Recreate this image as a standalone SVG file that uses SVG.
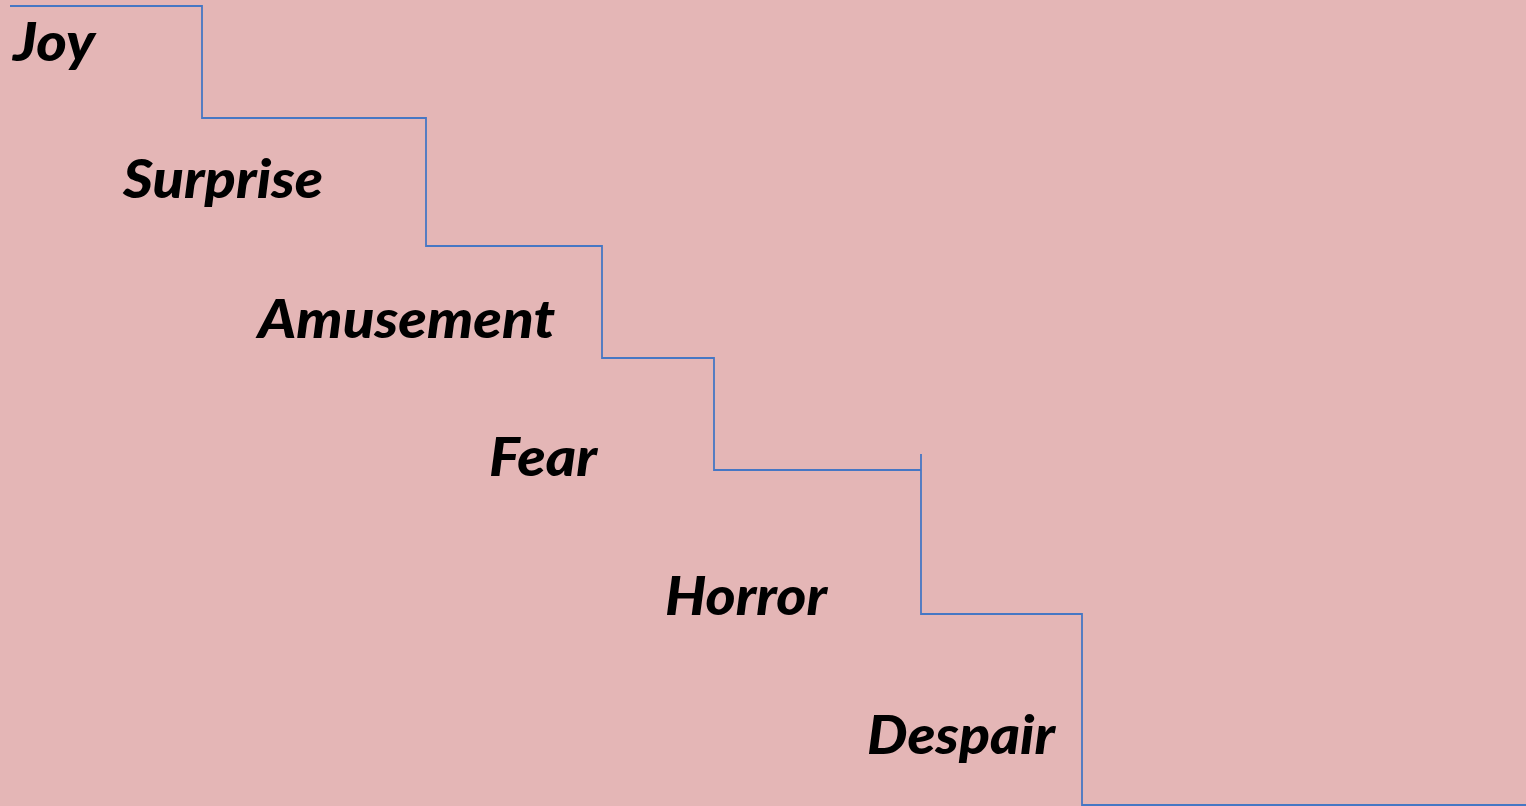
<svg xmlns="http://www.w3.org/2000/svg" width="1526" height="806" viewBox="0 0 1526 806">
<style>
.lbl{font-family:Lato,"Open Sans","Liberation Sans",sans-serif;font-weight:900;font-style:italic;font-size:53px;fill:#000}
.ln{fill:none;stroke:#4677C4;stroke-width:1.8}
</style>
<rect width="1526" height="806" fill="#E4B6B6"/>
<g id="connectors">
<path class="ln" d="M10 6H202V118H426V246H602V358H714V470H921"/>
<path class="ln" d="M921 454V614H1082V805H1526"/>
</g>
<g id="joy"><text class="lbl" x="13" y="61" textLength="82" lengthAdjust="spacingAndGlyphs">Joy</text></g>
<g id="surprise"><text class="lbl" x="123" y="198" textLength="200" lengthAdjust="spacingAndGlyphs">Surprise</text></g>
<g id="amusement"><text class="lbl" x="258" y="338" textLength="297" lengthAdjust="spacingAndGlyphs">Amusement</text></g>
<g id="fear"><text class="lbl" x="489" y="476" textLength="108" lengthAdjust="spacingAndGlyphs">Fear</text></g>
<g id="horror"><text class="lbl" x="665" y="615" textLength="162" lengthAdjust="spacingAndGlyphs">Horror</text></g>
<g id="despair"><text class="lbl" x="867" y="754" textLength="188" lengthAdjust="spacingAndGlyphs">Despair</text></g>
</svg>
